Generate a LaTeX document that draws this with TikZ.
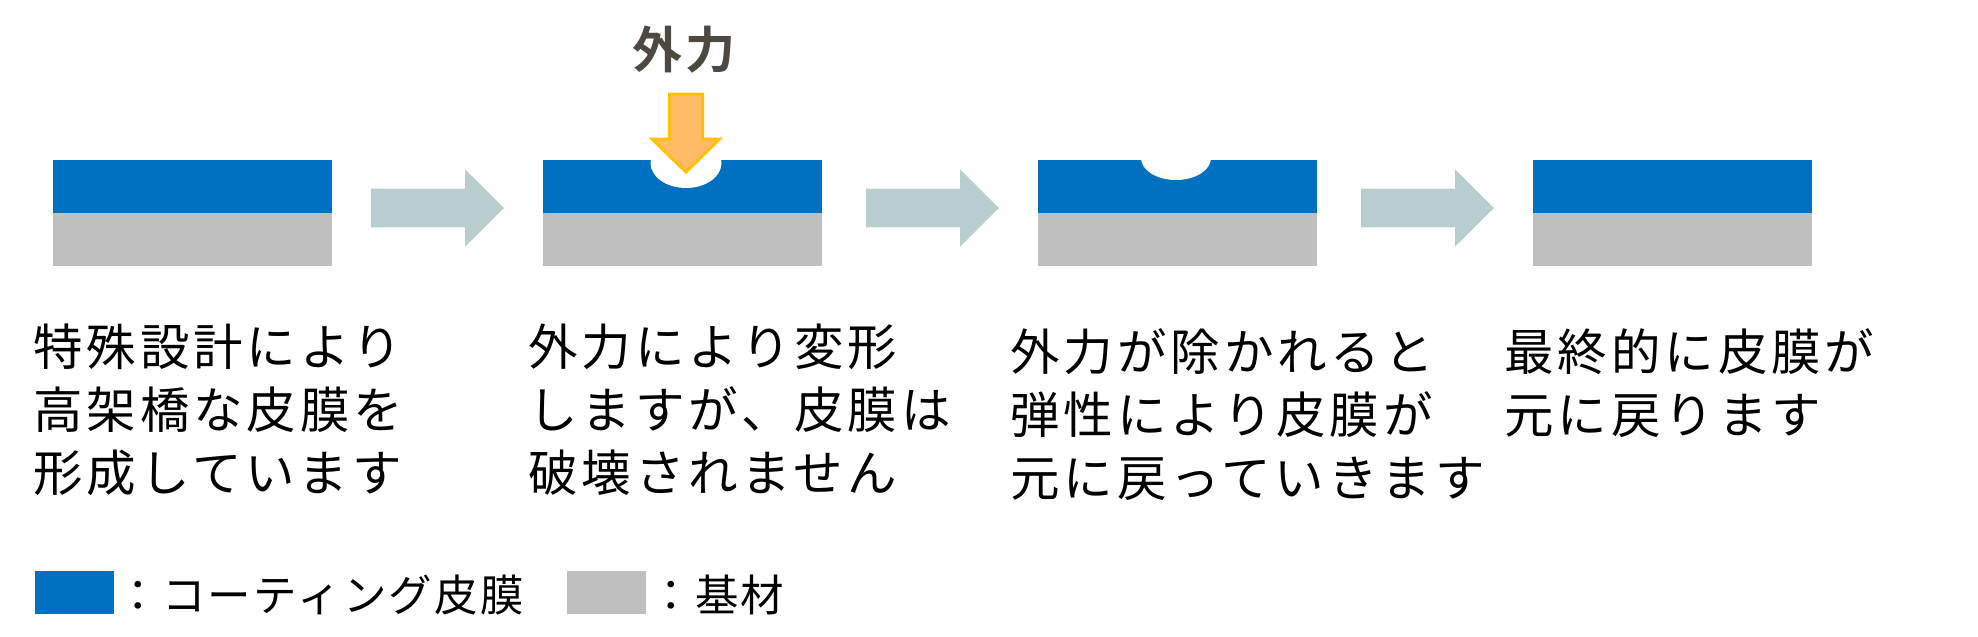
\documentclass[tikz,border=0pt]{standalone}
\usepackage{fontspec}
\usetikzlibrary{calc}
\newfontfamily\jp[LetterSpace=8]{Noto Sans CJK JP}
\newfontfamily\jplg[LetterSpace=5.5]{Noto Sans CJK JP}
\newfontfamily\jpbold[LetterSpace=5]{Noto Sans CJK JP Bold}
\definecolor{coatblue}{RGB}{0,112,192}
\definecolor{basegray}{RGB}{191,191,191}
\definecolor{flowgray}{RGB}{184,205,208}
\definecolor{forcefill}{RGB}{255,187,102}
\definecolor{forceline}{RGB}{255,192,0}
\definecolor{labelgray}{RGB}{77,72,64}
\tikzset{
  coat/.style={fill=coatblue,inner sep=0pt,outer sep=0pt,minimum width=279pt,minimum height=52.7pt,anchor=north west},
  basefilm/.style={fill=basegray,inner sep=0pt,outer sep=0pt,minimum width=279pt,minimum height=53pt,anchor=north},
  flow/.style={fill=flowgray},
  forcearrow/.style={fill=forcefill,draw=forceline,line width=3pt,line join=miter},
  txt/.style={font=\jp\fontsize{49.5}{60}\selectfont,inner sep=0pt,anchor=base west,text=black},
  legtxt/.style={font=\jplg\fontsize{43.5}{52}\selectfont,inner sep=0pt,anchor=base west,text=black},
  legbox/.style={inner sep=0pt,outer sep=0pt,minimum width=79pt,minimum height=43pt,anchor=north west},
  dent/.style={fill=white}
}
\begin{document}
\begin{tikzpicture}[x=1pt,y=-1pt]
\useasboundingbox[fill=white] (0,0) rectangle (1978,637);
% films
\foreach \i/\x in {1/53,2/543,3/1038,4/1533}{
  \node[coat] (c\i) at (\x,160) {};
  \node[basefilm] (b\i) at (c\i.south) {};
}
% dents
\fill[dent] (686,163) ellipse [x radius=35.5pt, y radius=25pt];
\fill[dent] (1176,158) ellipse [x radius=35pt, y radius=22pt];
% process arrows
\foreach \n/\x in {1/371,2/866,3/1361}{
  \coordinate (a\n) at (\x,208);
  \fill[flow] (a\n) ++(0,-19.4) -- ++(94,0) -- ++(0,-19.3) -- ++(39,38.7) -- ++(-39,38.7) -- ++(0,-19.3) -- ++(-94,0) -- cycle;
}
% force arrow
\node[font=\jpbold\fontsize{50}{60}\selectfont,text=labelgray,inner sep=0pt] (force) at (684,50) {外力};
\coordinate (ftop) at (686,94);
\draw[forcearrow] (ftop) ++(-16.5,0) -- ++(33,0) -- ++(0,45) -- ++(17,0) -- (686,172) -- (652,139) -- ++(17.5,0) -- cycle;
% texts
\node[txt] (t1a) at (33,365) {特殊設計により};
\node[txt] (t1b) at (33,428.3) {高架橋な皮膜を};
\node[txt] (t1c) at (33,491.6) {形成しています};
\node[txt] (t2a) at (528,365) {外力により変形};
\node[txt] (t2b) at (528,428.3) {しますが、皮膜は};
\node[txt] (t2c) at (528,491.6) {破壊されません};
\node[txt] (t3a) at (1010,370) {外力が除かれると};
\node[txt] (t3b) at (1010,433.3) {弾性により皮膜が};
\node[txt] (t3c) at (1010,496.6) {元に戻っていきます};
\node[txt] (t4a) at (1504,370) {最終的に皮膜が};
\node[txt] (t4b) at (1504,433.3) {元に戻ります};
% legend
\node[legbox,fill=coatblue] (lg1) at (35,571) {};
\node[legtxt] (lt1) at (116,611) {：コーティング皮膜};
\node[legbox,fill=basegray] (lg2) at (567,571) {};
\node[legtxt] (lt2) at (649,611) {：基材};
\end{tikzpicture}
\end{document}
